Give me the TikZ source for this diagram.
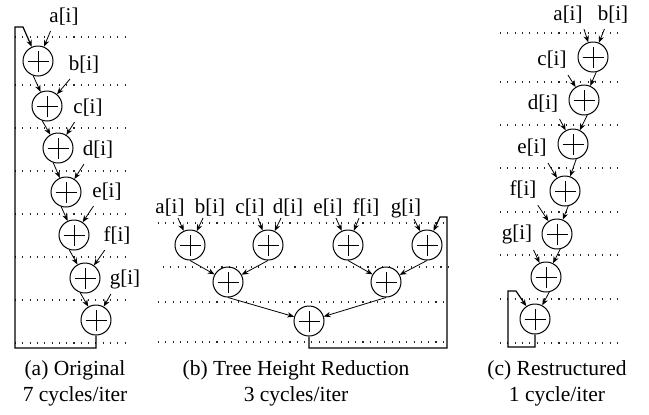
\documentclass[tikz,border=0pt]{standalone}
\usepackage{fontspec}
\setmainfont{Liberation Serif}
\usetikzlibrary{arrows.meta}
\begin{document}
\begin{tikzpicture}[x=0.5pt,y=-0.5pt,
  adder/.style={circle,draw,line width=0.5pt,minimum size=15pt,inner sep=0pt,
    path picture={\draw[line width=0.5pt]
      ([xshift=-5.25pt]path picture bounding box.center) -- ([xshift=5.25pt]path picture bounding box.center)
      ([yshift=-5.25pt]path picture bounding box.center) -- ([yshift=5.25pt]path picture bounding box.center);}},
  lbl/.style={inner sep=0pt,font=\fontsize{10.5}{12}\selectfont},
  subcap/.style={align=center,inner sep=0pt,font=\fontsize{10.75}{13}\selectfont},
  arr/.style={line width=0.4pt,-{Stealth[length=3.4pt,width=2.7pt]}},
  fb/.style={line width=0.6pt},
  stage/.style={line width=0.55pt,black!85,dash pattern=on 0.55pt off 3.1pt},
]
\fill[white] (0,0) rectangle (649,414);
\useasboundingbox (0,0) rectangle (649,414);

% ---------- (a) original chain ----------
\foreach \y in {37,85,128,171,214,257,300,343}
  \draw[stage] (15,\y) -- (130,\y);
\node[adder] (A1) at (38,61) {};
\node[adder] (A2) at (47,106) {};
\node[adder] (A3) at (58,148) {};
\node[adder] (A4) at (66,192) {};
\node[adder] (A5) at (74,235) {};
\node[adder] (A6) at (85,278) {};
\node[adder] (A7) at (96,320) {};
\node[lbl] (la) at (64,17) {a[i]};
\node[lbl] (lb) at (84,65) {b[i]};
\node[lbl] (lc) at (88,108) {c[i]};
\node[lbl] (ld) at (98,150) {d[i]};
\node[lbl] (le) at (107,192) {e[i]};
\node[lbl] (lf) at (117,236) {f[i]};
\node[lbl] (lg) at (125,279) {g[i]};
\foreach \l/\n in {la/A1,lb/A2,lc/A3,ld/A4,le/A5,lf/A6,lg/A7}
  \draw[arr] ([shift={(0.75pt,-2.5pt)}]\l.south west) -- (\n);
\foreach \p/\n in {A1/A2,A2/A3,A3/A4,A4/A5,A5/A6,A6/A7}
  \draw[arr] (\p.-108) -- (\n);
\coordinate (fa1) at (15,348);
\coordinate (fa2) at (15,27);
\coordinate (fa3) at (23,27);
\draw[arr,fb] (A7.south) |- (fa1) -- (fa2) -- (fa3) -- (A1);
\node[subcap] (capa) at (75,383) {(a) Original\\7 cycles/iter};

% ---------- (b) tree height reduction ----------
\draw[stage] (158,223) -- (448,223);
\draw[stage] (163,267) -- (453,267);
\draw[stage] (158,302) -- (448,302);
\draw[stage] (158,342) -- (448,342);
\node[adder] (B1) at (190,245) {};
\node[adder] (B2) at (268,245) {};
\node[adder] (B3) at (348,245) {};
\node[adder] (B4) at (427,245) {};
\node[adder] (B5) at (228,282) {};
\node[adder] (B6) at (386,282) {};
\node[adder] (B7) at (309,321) {};
\node[lbl] (ba) at (170,208) {a[i]};
\node[lbl] (bb) at (210,208) {b[i]};
\node[lbl] (bc) at (250,208) {c[i]};
\node[lbl] (bd) at (288,208) {d[i]};
\node[lbl] (be) at (328,208) {e[i]};
\node[lbl] (bf) at (366,208) {f[i]};
\node[lbl] (bg) at (406,208) {g[i]};
\foreach \l/\n in {ba/B1,bc/B2,be/B3,bg/B4}
  \draw[arr] ([shift={(4pt,-0.5pt)}]\l.south) -- (\n);
\foreach \l/\n in {bb/B1,bd/B2,bf/B3}
  \draw[arr] ([shift={(-3.5pt,-0.5pt)}]\l.south) -- (\n);
\foreach \p/\n in {B1/B5,B2/B5,B3/B6,B4/B6,B5/B7,B6/B7}
  \draw[arr] (\p.south) -- (\n);
\coordinate (fb1) at (447,348);
\coordinate (fb2) at (447,217);
\coordinate (fb3) at (440,217);
\draw[arr,fb] (B7.south) |- (fb1) -- (fb2) -- (fb3) -- (B4);
\node[subcap] (capb) at (296,383) {(b) Tree Height Reduction\\3 cycles/iter};

% ---------- (c) restructured chain ----------
\foreach \y in {33,82,125,168,212,255,299,343}
  \draw[stage] (500,\y) -- (618,\y);
\node[adder] (C1) at (593,57) {};
\node[adder] (C2) at (584,100) {};
\node[adder] (C3) at (573,144) {};
\node[adder] (C4) at (565,191) {};
\node[adder] (C5) at (557,234) {};
\node[adder] (C6) at (546,277) {};
\node[adder] (C7) at (535,319) {};
\node[lbl] (ca) at (568,15) {a[i]};
\node[lbl] (cb) at (613,15) {b[i]};
\node[lbl] (cc) at (552,60) {c[i]};
\node[lbl] (cd) at (543,104) {d[i]};
\node[lbl] (ce) at (532,148) {e[i]};
\node[lbl] (cf) at (523,190) {f[i]};
\node[lbl] (cg) at (517,234) {g[i]};
\draw[arr] ([shift={(0.5pt,-2.5pt)}]ca.south east) -- (C1);
\draw[arr] ([shift={(3.5pt,-2.5pt)}]cb.south west) -- (C1);
\foreach \l/\n in {cc/C2,cd/C3,ce/C4,cf/C5,cg/C6}
  \draw[arr] ([shift={(0.5pt,-3pt)}]\l.south east) -- (\n);
\foreach \p/\n in {C1/C2,C2/C3,C3/C4,C4/C5,C5/C6,C6/C7}
  \draw[arr] (\p.-78) -- (\n);
\coordinate (fc1) at (508,347);
\coordinate (fc2) at (508,291);
\coordinate (fc3) at (516,291);
\draw[arr,fb] (C7.south) |- (fc1) -- (fc2) -- (fc3) -- (C7);
\node[subcap] (capc) at (557,383) {(c) Restructured\\1 cycle/iter};
\end{tikzpicture}
\end{document}
